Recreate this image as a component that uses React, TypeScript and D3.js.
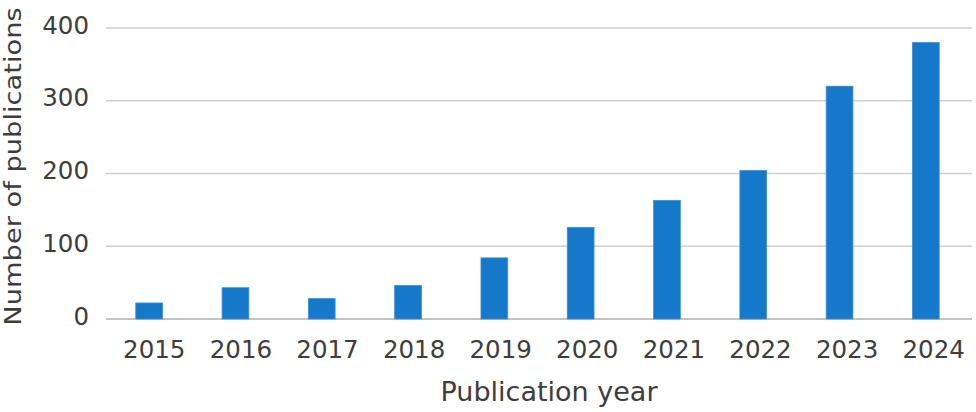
import React from 'react';
import * as d3 from 'd3';

const years = ['2015', '2016', '2017', '2018', '2019', '2020', '2021', '2022', '2023', '2024'];
const publications = [22, 43, 28, 46, 84, 126, 163, 204, 320, 380];
const yTicks = [0, 100, 200, 300, 400];

const width = 976;
const height = 412;
const plotLeft = 106;
const plotRight = 972;
const marginTop = 28;
const marginBottom = 93;

const App = () => {
  // bars sit on their own band scale, labels on a slightly shifted one
  const x = d3.scaleBand()
    .domain(years)
    .range([plotLeft, 969])
    .paddingInner(0.69)
    .paddingOuter(0.345);

  const xLabel = d3.scaleBand()
    .domain(years)
    .range([111, 977]);

  const y = d3.scaleLinear()
    .domain([0, 400])
    .range([height - marginBottom, marginTop]);

  const font = 'DejaVu Sans, Verdana, sans-serif';
  const textColor = '#3d3d3d';

  return (
    <svg width={width} height={height} style={{ position: 'absolute', left: 0, top: 0 }}>
      <rect width={width} height={height} fill="#fff" />
      {yTicks.map(t => (
        <g key={t}>
          <line x1={plotLeft} x2={plotRight} y1={y(t)} y2={y(t)}
            stroke={t === 0 ? '#c4c4c4' : '#d0d0d0'} strokeWidth={t === 0 ? 2 : 1.5} />
          <text x={89} y={y(t) + 5.5} textAnchor="end" fontFamily={font} fontSize={24.5} fill={textColor}>{t}</text>
        </g>
      ))}
      {years.map((yr, i) => (
        <rect key={yr} x={x(yr)} y={y(publications[i])} width={x.bandwidth()}
          height={y(0) - y(publications[i])} fill="#1578c9" stroke="#3b8fd6" strokeWidth={0.8} />
      ))}
      {years.map(yr => (
        <text key={yr} x={(xLabel(yr) as number) + xLabel.bandwidth() / 2} y={358} textAnchor="middle"
          fontFamily={font} fontSize={24.5} fill={textColor}>{yr}</text>
      ))}
      <text x={549} y={401} textAnchor="middle" fontFamily={font} fontSize={27} fill={textColor}>Publication year</text>
      <text transform={`translate(21, 166.5) rotate(-90) scale(1.01, 0.84)`} textAnchor="middle"
        fontFamily={font} fontSize={27} fill={textColor}>Number of publications</text>
    </svg>
  );
};

export default App;
